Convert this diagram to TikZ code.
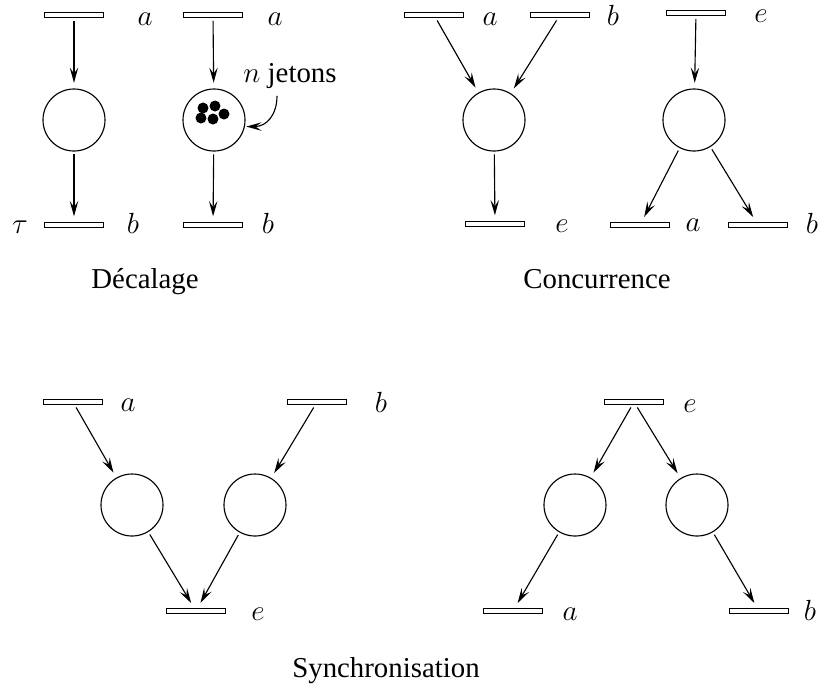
\documentclass[tikz,border=0pt]{standalone}
\usepackage{fontspec}
\setmainfont{Liberation Serif}
\usetikzlibrary{arrows.meta}
\tikzset{
  place/.style={circle, draw, line width=0.8pt, minimum size=1.55cm, inner sep=0pt},
  trans/.style={rectangle, draw, line width=0.8pt, minimum width=1.475cm, minimum height=0.125cm, inner sep=0pt},
  arc/.style={-{Stealth[length=3.8mm,width=2.1mm,inset=1.5mm]}, line width=0.8pt, shorten <=2pt, shorten >=4pt},
  lbl/.style={anchor=base, inner sep=0pt},
  token/.style={fill=black}
}
\begin{document}
\begin{tikzpicture}[x=0.025cm, y=-0.025cm, font=\fontsize{20.5}{24}\selectfont]
  \useasboundingbox (0,0) rectangle (818,687);
  % Decalage
  \node[trans] (dA) at (74,15) {};
  \node[place] (dP) at (74,120) {};
  \node[trans] (dB) at (74,225) {};
  \node[lbl] (dAl) at (145,25) {$a$};
  \node[lbl] (dTau) at (20,233) {$\tau$};
  \node[lbl] (dBl) at (133,233) {$b$};
  \draw[arc] (dA) -- (dP);
  \draw[arc] (dP) -- (dB);
  \node[trans] (mA) at (213,15) {};
  \node[place] (mP) at (214,120) {};
  \node[trans] (mB) at (213,225) {};
  \node[lbl] (mAl) at (275,25) {$a$};
  \node[lbl] (mBl) at (268,233) {$b$};
  \draw[arc] (mA) -- (mP);
  \draw[arc] (mP) -- (mB);
  \foreach \dx/\dy in {-11/-12, 1/-14, -13/-2, -1/-1, 10/-6}
    \fill[token] ([shift={(\dx,\dy)}]mP.center) circle (5.5);
  \node[lbl] (jetons) at (290,82) {$n$ jetons};
  \coordinate (jetonsTail) at (277,93);
  \draw[arc, shorten >=1pt] (jetonsTail) to[out=-90, in=0, looseness=1.2] (mP.-12);
  \node[lbl] (decalage) at (145,288) {Décalage};
  % Concurrence
  \node[trans] (cA) at (434,15) {};
  \node[trans] (cB) at (560,15) {};
  \node[place] (cP) at (494,120) {};
  \node[trans] (cE) at (495,224) {};
  \node[lbl] (cAl) at (490,25) {$a$};
  \node[lbl] (cBl) at (613,25) {$b$};
  \node[lbl] (cEl) at (562,232) {$e$};
  \draw[arc] (cA) -- (cP);
  \draw[arc] (cB) -- (cP);
  \draw[arc] (cP) -- (cE);
  \node[trans] (fE) at (696,13) {};
  \node[place] (fP) at (694,120) {};
  \node[trans] (fA) at (640,225) {};
  \node[trans] (fB) at (758,225) {};
  \node[lbl] (fEl) at (761,22) {$e$};
  \node[lbl] (fAl) at (693,231) {$a$};
  \node[lbl] (fBl) at (812,233) {$b$};
  \draw[arc] (fE) -- (fP);
  \draw[arc] (fP) -- (fA);
  \draw[arc] (fP) -- (fB);
  \node[lbl] (concurrence) at (597,288) {Concurrence};
  % Synchronisation
  \node[trans] (sA) at (73,402) {};
  \node[trans] (sB) at (317,402) {};
  \node[place] (sP1) at (132,505) {};
  \node[place] (sP2) at (255,505) {};
  \node[trans] (sE) at (196,611) {};
  \node[lbl] (sAl) at (128,411) {$a$};
  \node[lbl] (sBl) at (381,412) {$b$};
  \node[lbl] (sEl) at (258,620) {$e$};
  \draw[arc] (sA) -- (sP1);
  \draw[arc] (sB) -- (sP2);
  \draw[arc] (sP1) -- (sE);
  \draw[arc] (sP2) -- (sE);
  \node[trans] (rE) at (634,402) {};
  \node[place] (rP1) at (575,505) {};
  \node[place] (rP2) at (697,505) {};
  \node[trans] (rA) at (513,611) {};
  \node[trans] (rB) at (759,611) {};
  \node[lbl] (rEl) at (690,412) {$e$};
  \node[lbl] (rAl) at (570,620) {$a$};
  \node[lbl] (rBl) at (810,620) {$b$};
  \draw[arc] (rE) -- (rP1);
  \draw[arc] (rE) -- (rP2);
  \draw[arc] (rP1) -- (rA);
  \draw[arc] (rP2) -- (rB);
  \node[lbl] (synchro) at (386,677) {Synchronisation};
\end{tikzpicture}
\end{document}
